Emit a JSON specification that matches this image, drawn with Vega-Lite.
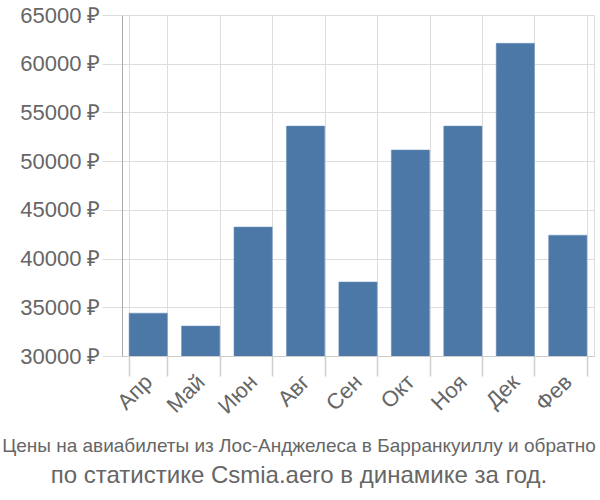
{
  "$schema": "https://vega.github.io/schema/vega-lite/v6.json",
  "width": 472,
  "height": 341,
  "autosize": "none",
  "padding": {"left": 122, "top": 15, "right": 6, "bottom": 144},
  "background": "white",
  "title": {
    "text": "Цены на авиабилеты из Лос-Анджелеса в Барранкуиллу и обратно",
    "subtitle": "по статистике Csmia.aero в динамике за год.",
    "orient": "bottom",
    "anchor": "middle",
    "offset": 20,
    "font": "Liberation Sans",
    "fontSize": 19,
    "fontWeight": "normal",
    "color": "#666666",
    "subtitleFont": "Liberation Sans",
    "subtitleFontSize": 24,
    "subtitleColor": "#666666",
    "subtitlePadding": 8,
    "dx": -59
  },
  "data": {
    "values": [
      {"month": "Апр", "price": 34400},
      {"month": "Май", "price": 33080},
      {"month": "Июн", "price": 43240},
      {"month": "Авг", "price": 53600},
      {"month": "Сен", "price": 37600},
      {"month": "Окт", "price": 51150},
      {"month": "Ноя", "price": 53600},
      {"month": "Дек", "price": 62100},
      {"month": "Фев", "price": 42400}
    ]
  },
  "config": {
    "view": {"stroke": "#dddddd", "strokeWidth": 1},
    "axis": {
      "labelFont": "Liberation Sans",
      "labelFontSize": 22,
      "labelColor": "#666666",
      "gridColor": "#dddddd",
      "title": null
    }
  },
  "mark": {"type": "bar", "color": "#4c78a8", "stroke": "#6f93bd", "strokeWidth": 0.5, "clip": true},
  "encoding": {
    "x": {
      "field": "month",
      "type": "nominal",
      "sort": null,
      "scale": {"paddingInner": 0.27, "paddingOuter": 0.135},
      "axis": {
        "tickBand": "extent",
        "ticks": true,
        "tickSize": 20,
        "tickColor": "#cfcfcf",
        "tickWidth": 1.5,
        "tickOpacity": 1,
        "labelAngle": -45,
        "labelAlign": "right",
        "labelBaseline": "middle",
        "labelPadding": 2,
        "grid": true,
        "domainColor": "#cccccc"
      }
    },
    "y": {
      "field": "price",
      "type": "quantitative",
      "scale": {"domain": [30000, 65000], "nice": false, "zero": false},
      "axis": {
        "values": [30000, 35000, 40000, 45000, 50000, 55000, 60000, 65000],
        "labelExpr": "format(datum.value, 'd') + ' ₽'",
        "labelPadding": 2,
        "ticks": true,
        "tickSize": 20,
        "tickColor": "#dddddd",
        "grid": true,
        "domainColor": "#aaaaaa"
      }
    }
  }
}
